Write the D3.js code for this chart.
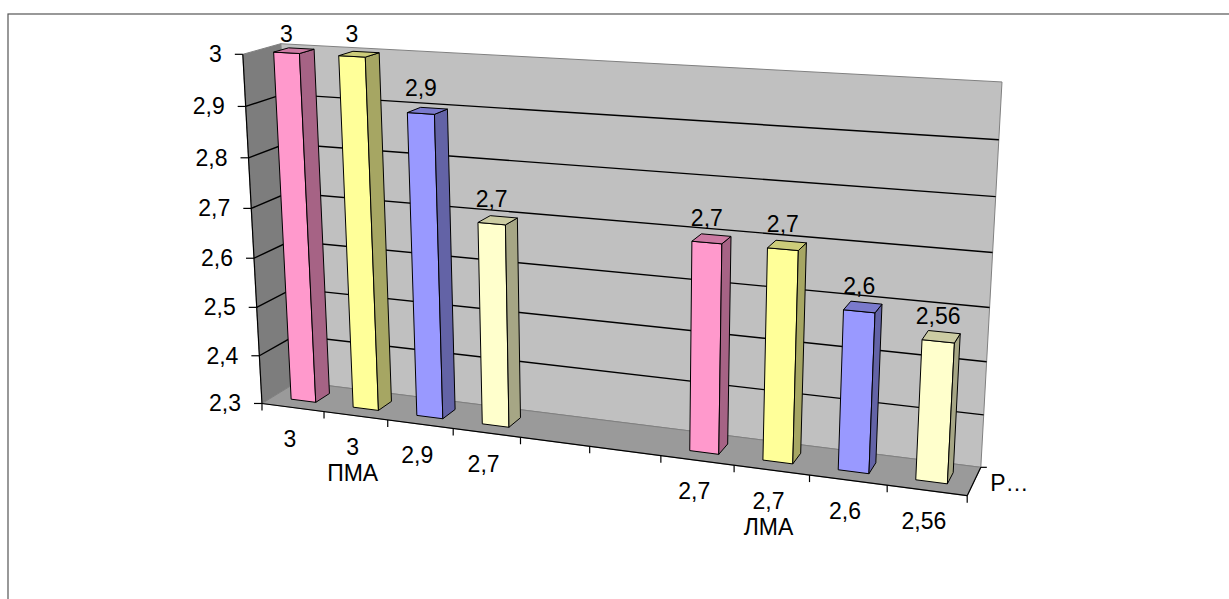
<!DOCTYPE html>
<html>
<head>
<meta charset="utf-8">
<script src="https://cdn.jsdelivr.net/npm/d3@7"></script>
<style>
  body { margin: 0; background: #fff; }
  text { font-family: Arial, "Liberation Sans", sans-serif; fill: #000; }
</style>
</head>
<body>
<svg id="chart" width="1229" height="599"></svg>
<script>
// ---- data ----
const categories  = ["3", "3", "2,9", "2,7", "", "", "2,7", "2,7", "2,6", "2,56"];
const groupLabels = ["", "ПМА", "", "", "", "", "", "ЛМА", "", ""];
const values      = [3, 3, 2.9, 2.7, null, null, 2.7, 2.7, 2.6, 2.56];
const barColors   = ["#FF99CC", "#FFFF99", "#9999FF", "#FFFFCC", null, null,
                     "#FF99CC", "#FFFF99", "#9999FF", "#FFFFCC"];
const yTicks      = [2.3, 2.4, 2.5, 2.6, 2.7, 2.8, 2.9, 3];
const seriesName  = "Р…";

const FONT = 23;

// ---- number format with decimal comma ----
const ru = d3.formatLocale({ decimal: ",", thousands: " ", grouping: [3], currency: ["", ""] });
const fmt = ru.format("~g");

// ---- perspective projection of the unit plot cube (u: categories, v: value, w: depth) ----
// screen positions of the visible cube corners: [u, v, w, x, y]
const frame = [
  [0, 0, 0, 262, 403.5],
  [0, 1, 0, 243, 54],
  [0, 1, 1, 280.5, 44],
  [1, 1, 1, 1002, 82],
  [1, 0, 1, 981, 467],
  [1, 0, 0, 967, 496]
];
const NX = 600, NY = 270, NS = 400;

function fitProjection(pts) {
  const rows = [], rhs = [];
  for (const [X, Y, Z, sx, sy] of pts) {
    const x = (sx - NX) / NS, y = (sy - NY) / NS;
    rows.push([X, Y, Z, 1, 0, 0, 0, 0, -x * X, -x * Y, -x * Z]); rhs.push(x);
    rows.push([0, 0, 0, 0, X, Y, Z, 1, -y * X, -y * Y, -y * Z]); rhs.push(y);
  }
  const n = 11;
  const M = Array.from({ length: n }, () => new Array(n + 1).fill(0));
  rows.forEach((r, k) => {
    for (let i = 0; i < n; i++) {
      for (let j = 0; j < n; j++) M[i][j] += r[i] * r[j];
      M[i][n] += r[i] * rhs[k];
    }
  });
  for (let c = 0; c < n; c++) {
    let piv = c;
    for (let r = c + 1; r < n; r++) if (Math.abs(M[r][c]) > Math.abs(M[piv][c])) piv = r;
    [M[c], M[piv]] = [M[piv], M[c]];
    for (let r = 0; r < n; r++) {
      if (r === c) continue;
      const f = M[r][c] / M[c][c];
      for (let j = c; j <= n; j++) M[r][j] -= f * M[c][j];
    }
  }
  return M.map((row, i) => row[n] / row[i]);
}
const P = fitProjection(frame);
function project(u, v, w) {
  const d = P[8] * u + P[9] * v + P[10] * w + 1;
  const x = (P[0] * u + P[1] * v + P[2] * w + P[3]) / d;
  const y = (P[4] * u + P[5] * v + P[6] * w + P[7]) / d;
  return [x * NS + NX, y * NS + NY];
}

// ---- scales ----
const idx = categories.map((_, i) => i);
const xScale = d3.scaleBand().domain(idx).range([0, 1]).paddingInner(0.6).paddingOuter(0.3);
const yScale = d3.scaleLinear().domain([2.3, 3]).range([0, 1]);
const step = 1 / categories.length;
const barDepth = [0.3, 0.7];

const svg = d3.select("#chart");
const poly = pts => "M" + pts.map(p => project(...p).join(",")).join("L") + "Z";
const pline = pts => "M" + pts.map(p => project(...p).join(",")).join("L");

// chart area border
svg.append("rect").attr("x", 8).attr("y", 14).attr("width", 1300).attr("height", 700)
  .attr("fill", "#fff").attr("stroke", "#555").attr("stroke-width", 1.2);

// walls and floor
const wallFill = "#C0C0C0", sideWall = "#7D7D7D", floorFill = "#9A9A9A";
svg.append("path").attr("d", poly([[0,0,1],[1,0,1],[1,1,1],[0,1,1]]))
  .attr("fill", wallFill).attr("stroke", "#808080").attr("stroke-width", 1);
svg.append("path").attr("d", poly([[0,0,0],[0,0,1],[0,1,1],[0,1,0]]))
  .attr("fill", sideWall).attr("stroke", "#808080").attr("stroke-width", 1);
svg.append("path").attr("d", poly([[0,0,0],[1,0,0],[1,0,1],[0,0,1]]))
  .attr("fill", floorFill).attr("stroke", "#808080").attr("stroke-width", 1);

// major gridlines across the left and back walls
svg.append("g").selectAll("path")
  .data(yTicks.filter(t => t > 2.3 && t < 3))
  .join("path")
  .attr("d", t => pline([[0, yScale(t), 0], [0, yScale(t), 1], [1, yScale(t), 1]]))
  .attr("fill", "none").attr("stroke", "#000").attr("stroke-width", 1.4);

// axis lines
const axes = svg.append("g").attr("fill", "none").attr("stroke", "#000").attr("stroke-width", 1.2);
axes.append("path").attr("d", pline([[0,0,0],[0,1,0]]));
axes.append("path").attr("d", pline([[0,0,0],[1,0,0]]));
axes.append("path").attr("d", pline([[1,0,0],[1,0,1]]));

// value axis ticks and labels
const yAxis = svg.append("g");
yTicks.forEach(t => {
  const [x, y] = project(0, yScale(t), 0);
  yAxis.append("line").attr("x1", x - 8).attr("x2", x).attr("y1", y).attr("y2", y)
    .attr("stroke", "#000").attr("stroke-width", 1.2);
  yAxis.append("text").attr("x", x - 21).attr("y", y + 8)
    .attr("text-anchor", "end").attr("font-size", FONT).text(fmt(t));
});

// category axis ticks
const cAxis = svg.append("g");
d3.range(categories.length + 1).forEach(k => {
  const [x, y] = project(k * step, 0, 0);
  cAxis.append("line").attr("x1", x).attr("x2", x).attr("y1", y).attr("y2", y + 7)
    .attr("stroke", "#000").attr("stroke-width", 1.2);
});
// category labels with the group name on a second line
idx.forEach(i => {
  const [x, y] = project(xScale(i) + xScale.bandwidth() / 2, 0, 0);
  const t = cAxis.append("text").attr("x", x - 3).attr("y", y + 39)
    .attr("text-anchor", "middle").attr("font-size", FONT);
  t.append("tspan").attr("x", x - 3).text(categories[i]);
  if (groupLabels[i]) t.append("tspan").attr("x", x - 3).attr("dy", 26).text(groupLabels[i]);
});

// depth axis tick and series name
{
  const [x, y] = project(1, 0, 1);
  svg.append("line").attr("x1", x).attr("x2", x + 6).attr("y1", y).attr("y2", y)
    .attr("stroke", "#000").attr("stroke-width", 1.2);
  const [mx, my] = project(1, 0, 0.5);
  svg.append("text").attr("x", mx + 16).attr("y", my + 10)
    .attr("font-size", FONT).text(seriesName);
}

// 3-D columns
const shade = (c, k) => { const o = d3.rgb(c); return d3.rgb(o.r * k, o.g * k, o.b * k).formatHex(); };
const bars = svg.append("g").attr("stroke", "#000").attr("stroke-width", 1).attr("stroke-linejoin", "round");
idx.filter(i => values[i] != null).forEach(i => {
  const u0 = xScale(i), u1 = u0 + xScale.bandwidth();
  const v0 = 0, v1 = yScale(values[i]);
  const [w0, w1] = barDepth;
  const g = bars.append("g");
  g.append("path").attr("d", poly([[u0,v0,w0],[u1,v0,w0],[u1,v1,w0],[u0,v1,w0]]))
    .attr("fill", barColors[i]);
  g.append("path").attr("d", poly([[u1,v0,w0],[u1,v0,w1],[u1,v1,w1],[u1,v1,w0]]))
    .attr("fill", shade(barColors[i], 0.65));
  g.append("path").attr("d", poly([[u0,v1,w0],[u1,v1,w0],[u1,v1,w1],[u0,v1,w1]]))
    .attr("fill", shade(barColors[i], 0.8));
});

// value labels above the columns, kept inside the chart area
idx.filter(i => values[i] != null).forEach(i => {
  const [x, y] = project(xScale(i) + xScale.bandwidth() / 2, yScale(values[i]), 0.3);
  svg.append("text").attr("x", x).attr("y", Math.max(42, y - 17))
    .attr("text-anchor", "middle").attr("font-size", FONT).text(fmt(values[i]));
});
</script>
</body>
</html>
